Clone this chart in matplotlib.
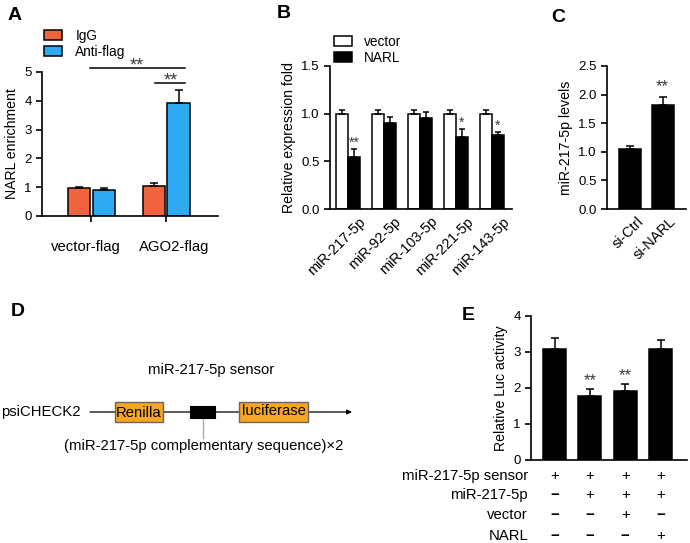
import matplotlib
matplotlib.use("Agg")
import matplotlib.pyplot as plt
from matplotlib.patches import Rectangle, Patch
from matplotlib.transforms import blended_transform_factory, ScaledTranslation
import numpy as np

plt.rcParams['font.family'] = ['Liberation Sans', 'DejaVu Sans']
plt.rcParams['font.size'] = 9.5

W, H = 690, 543
fig = plt.figure(figsize=(W / 100, H / 100), dpi=100)

# ---------------- data ----------------
a_groups = ["vector-flag", "AGO2-flag"]
a_igg = [0.98, 1.03]
a_igg_err = [0.03, 0.13]
a_anti = [0.90, 3.93]
a_anti_err = [0.06, 0.45]

b_mirs = ["miR-217-5p", "miR-92-5p", "miR-103-5p", "miR-221-5p", "miR-143-5p"]
b_vector = [1.0, 1.0, 1.0, 1.0, 1.0]
b_vector_err = [0.04, 0.04, 0.04, 0.04, 0.04]
b_narl = [0.55, 0.90, 0.95, 0.76, 0.78]
b_narl_err = [0.08, 0.06, 0.07, 0.08, 0.03]
b_sig = ["**", "", "", "*", "*"]

c_groups = ["si-Ctrl", "si-NARL"]
c_vals = [1.05, 1.82]
c_err = [0.05, 0.14]
c_sig = ["", "**"]

e_vals = [3.08, 1.77, 1.92, 3.07]
e_err = [0.30, 0.20, 0.18, 0.25]
e_sig = ["", "**", "**", ""]
e_rows = ["miR-217-5p sensor", "miR-217-5p", "vector", "NARL"]
e_table = [["+", "+", "+", "+"],
           ["−", "+", "+", "+"],
           ["−", "−", "+", "−"],
           ["−", "−", "−", "+"]]

RED = "#F26440"
BLUE = "#2FAAF5"
STAR = "#3a3a3a"
TXT = 10.7
YL = 10.2


def ax_px(l, t, r, b):
    return fig.add_axes([l / W, 1 - b / H, (r - l) / W, (b - t) / H])


def style(ax):
    for s in ["top", "right"]:
        ax.spines[s].set_visible(False)
    for s in ["left", "bottom"]:
        ax.spines[s].set_linewidth(1.2)
    ax.tick_params(width=1.2, length=4, labelsize=9.5)


def shift_labels(ax, dxs):
    for lab, d in zip(ax.get_xticklabels(), dxs):
        off = ScaledTranslation(d / 100, 0, fig.dpi_scale_trans)
        lab.set_transform(lab.get_transform() + off)


# ---------------- Panel A ----------------
ax = ax_px(42, 72, 218, 216)
style(ax)
x = np.arange(len(a_groups))
w = 0.30
ax.bar(x - 0.165, a_igg, w, color=RED, edgecolor="black", lw=1.1, label="IgG",
       yerr=[np.zeros(2), a_igg_err], capsize=3,
       error_kw=dict(elinewidth=1.1, capthick=1.1))
ax.bar(x + 0.165, a_anti, w, color=BLUE, edgecolor="black", lw=1.1, label="Anti-flag",
       yerr=[np.zeros(2), a_anti_err], capsize=3,
       error_kw=dict(elinewidth=1.1, capthick=1.1))
ax.set_xlim(-0.66, 1.69)
ax.set_ylim(0, 5)
ax.set_yticks([0, 1, 2, 3, 4, 5])
ax.set_xticks(x)
ax.set_xticklabels(a_groups, fontsize=TXT)
ax.tick_params(axis="x", pad=13)
shift_labels(ax, [-6, 8])
ax.set_ylabel("NARL enrichment", fontsize=YL, labelpad=4)
ax.plot([-0.02, 1.25], [5.14, 5.14], color="black", lw=1.1, clip_on=False)
ax.text(0.6, 4.92, "**", ha="center", va="bottom", fontsize=13, color=STAR)
ax.plot([0.85, 1.25], [4.62, 4.62], color="black", lw=1.1, clip_on=False)
ax.text(1.06, 4.40, "**", ha="center", va="bottom", fontsize=13, color=STAR)
ax.legend(handles=[Patch(facecolor=RED, edgecolor="black", lw=1.1, label="IgG"),
                   Patch(facecolor=BLUE, edgecolor="black", lw=1.1, label="Anti-flag")],
          loc="upper left", bbox_to_anchor=(44 / W, 1 - 29 / H), bbox_transform=fig.transFigure,
          frameon=False, fontsize=9.8, handlelength=1.3, handleheight=0.75,
          labelspacing=0.15, borderpad=0, handletextpad=1.0, borderaxespad=0)
fig.text(8 / W, 1 - 16 / H, "A", fontsize=14, fontweight="bold", va="center")

# ---------------- Panel B ----------------
ax = ax_px(330, 66, 512, 209)
style(ax)
x = np.arange(len(b_mirs))
w = 0.33
ax.bar(x - 0.165, b_vector, w, color="white", edgecolor="black", lw=1.1,
       yerr=[np.zeros(5), b_vector_err], capsize=2.5,
       error_kw=dict(elinewidth=1.1, capthick=1.1))
ax.bar(x + 0.165, b_narl, w, color="black", edgecolor="black", lw=1.1,
       yerr=[np.zeros(5), b_narl_err], capsize=2.5,
       error_kw=dict(elinewidth=1.1, capthick=1.1))
for i, s in enumerate(b_sig):
    if s:
        ax.text(x[i] + 0.165, b_narl[i] + b_narl_err[i] - 0.01, s, ha="center",
                va="bottom", fontsize=10, color=STAR)
ax.set_xlim(-0.5, 4.56)
ax.set_ylim(0, 1.5)
ax.set_yticks([0, 0.5, 1.0, 1.5])
ax.set_yticklabels(["0.0", "0.5", "1.0", "1.5"])
ax.set_xticks(x)
ax.set_xticklabels(b_mirs, rotation=45, ha="right", rotation_mode="anchor", fontsize=10.4)
ax.tick_params(axis="x", length=0, pad=4)
shift_labels(ax, [10] * len(b_mirs))
ax.set_ylabel("Relative expression fold", fontsize=YL, labelpad=4)
ax.legend(handles=[Patch(facecolor="white", edgecolor="black", lw=1.1, label="vector"),
                   Patch(facecolor="black", edgecolor="black", lw=1.1, label="NARL")],
          loc="upper left", bbox_to_anchor=(334 / W, 1 - 35 / H), bbox_transform=fig.transFigure,
          frameon=False, fontsize=9.8, handlelength=1.3, handleheight=0.75,
          labelspacing=0.15, borderpad=0, handletextpad=0.9, borderaxespad=0)
fig.text(277 / W, 1 - 14 / H, "B", fontsize=14, fontweight="bold", va="center")

# ---------------- Panel C ----------------
ax = ax_px(607, 66, 686, 209)
style(ax)
x = np.arange(len(c_groups))
ax.bar(x, c_vals, 0.68, color="black", edgecolor="black", lw=1.1,
       yerr=[np.zeros(2), c_err], capsize=3,
       error_kw=dict(elinewidth=1.1, capthick=1.1))
for i, s in enumerate(c_sig):
    if s:
        ax.text(x[i], c_vals[i] + c_err[i] + 0.04, s, ha="center", va="bottom",
                fontsize=12, color=STAR)
ax.set_xlim(-0.71, 1.72)
ax.set_ylim(0, 2.5)
ax.set_yticks([0, 0.5, 1.0, 1.5, 2.0, 2.5])
ax.set_yticklabels(["0.0", "0.5", "1.0", "1.5", "2.0", "2.5"])
ax.set_xticks(x)
ax.set_xticklabels(c_groups, rotation=45, ha="right", rotation_mode="anchor", fontsize=10.4)
ax.tick_params(axis="x", length=0, pad=4)
shift_labels(ax, [6, 6])
ax.set_ylabel("miR-217-5p levels", fontsize=YL, labelpad=4)
fig.text(551 / W, 1 - 17 / H, "C", fontsize=14, fontweight="bold", va="center")

# ---------------- Panel D (diagram) ----------------
dx = fig.add_axes([0, 0, 1, 1], zorder=-1)
dx.set_xlim(0, W)
dx.set_ylim(H, 0)
dx.axis("off")
dx.text(18, 312, "D", fontsize=14, fontweight="bold", ha="center", va="center")
dx.text(211, 370, "miR-217-5p sensor", fontsize=TXT, ha="center", va="center")
dx.text(81, 412, "psiCHECK2", fontsize=TXT, ha="right", va="center")
dx.annotate("", xy=(352, 412), xytext=(90, 412),
            arrowprops=dict(arrowstyle="-|>", lw=0.9, color="black", mutation_scale=7,
                            shrinkA=0, shrinkB=0))
dx.add_patch(Rectangle((115, 402), 48, 20, facecolor="#F5A623", edgecolor="#666666", lw=1.0, zorder=3))
dx.text(139, 413, "Renilla", fontsize=TXT, ha="center", va="center", zorder=4)
dx.add_patch(Rectangle((190, 406), 25, 12, facecolor="black", edgecolor="black", lw=0.8, zorder=3))
dx.add_patch(Rectangle((239, 402), 69, 20, facecolor="#F5A623", edgecolor="#666666", lw=1.0, zorder=3))
dx.text(273.5, 411, "luciferase", fontsize=TXT, ha="center", va="center", zorder=4)
dx.plot([203, 203], [418, 438], color="#AAAAAA", lw=1.0)
dx.text(204, 446, "(miR-217-5p complementary sequence)×2", fontsize=TXT, ha="center", va="center")

# ---------------- Panel E ----------------
ax = ax_px(531, 316, 687, 460)
style(ax)
x = np.arange(len(e_vals))
ax.bar(x, e_vals, 0.65, color="black", edgecolor="black", lw=1.1,
       yerr=[np.zeros(4), e_err], capsize=3,
       error_kw=dict(elinewidth=1.1, capthick=1.1))
for i, s in enumerate(e_sig):
    if s:
        ax.text(x[i], e_vals[i] + e_err[i] + 0.03, s, ha="center", va="bottom",
                fontsize=12, color=STAR)
ax.set_xlim(-0.67, 3.75)
ax.set_ylim(0, 4)
ax.set_yticks([0, 1, 2, 3, 4])
ax.set_xticks([])
ax.set_ylabel("Relative Luc activity", fontsize=YL, labelpad=4)
tr = blended_transform_factory(ax.transData, fig.transFigure)
row_y = [476, 495, 515, 536]
for r, lab in enumerate(e_rows):
    fig.text(528 / W, 1 - row_y[r] / H, lab, fontsize=TXT, ha="right", va="center")
    for i in range(len(e_vals)):
        ax.text(x[i], 1 - row_y[r] / H, e_table[r][i], transform=tr, fontsize=TXT,
                ha="center", va="center", fontweight="bold" if e_table[r][i] == "−" else "normal")
fig.text(462 / W, 1 - 315 / H, "E", fontsize=14, fontweight="bold", va="center", ha="left")

fig.savefig("out.png", dpi=100)
